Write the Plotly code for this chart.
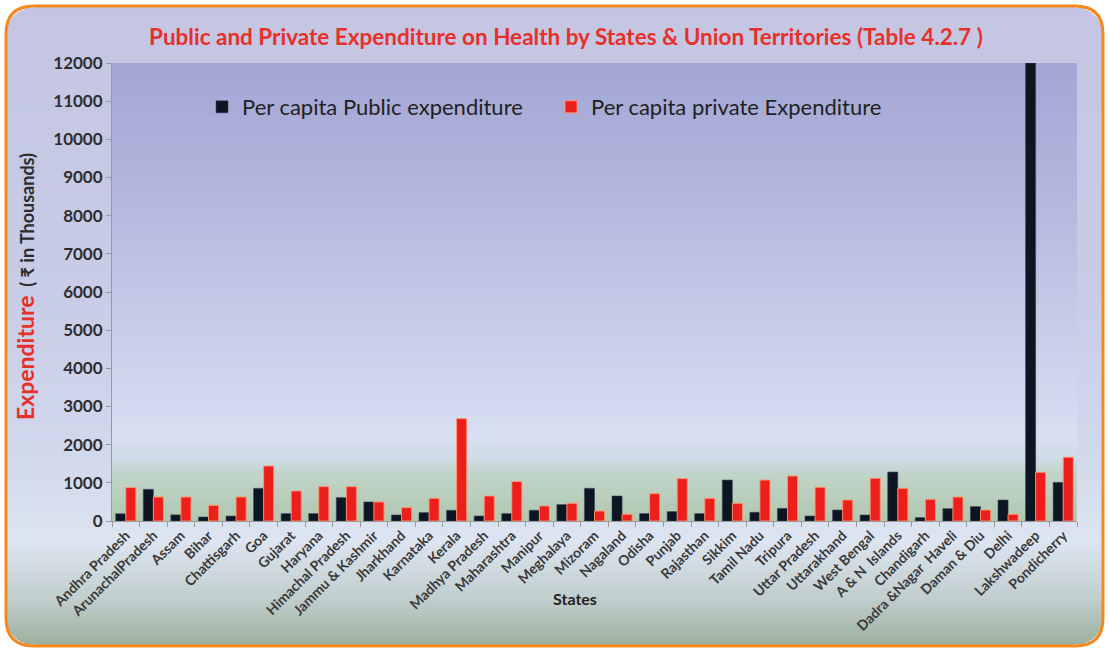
import math
import plotly.graph_objects as go

states = ["Andhra Pradesh", "ArunachalPradesh", "Assam", "Bihar", "Chattisgarh", "Goa",
          "Gujarat", "Haryana", "Himachal Pradesh", "Jammu & Kashmir", "Jharkhand",
          "Karnataka", "Kerala", "Madhya Pradesh", "Maharashtra", "Manipur", "Meghalaya",
          "Mizoram", "Nagaland", "Odisha", "Punjab", "Rajasthan", "Sikkim", "Tamil Nadu",
          "Tripura", "Uttar Pradesh", "Uttarakhand", "West Bengal", "A & N  Islands",
          "Chandigarh", "Dadra &Nagar  Haveli", "Daman & Diu", "Delhi", "Lakshwadeep",
          "Pondicherry"]
public_exp = [190, 830, 160, 105, 130, 856, 194, 194, 612, 498, 157, 220, 280, 131, 194,
              280, 430, 856, 655, 194, 246, 194, 1073, 228, 330, 131, 288, 157, 1283,
              89, 323, 377, 550, 12000, 1013]
private_exp = [875, 629, 629, 411, 629, 1441, 786, 900, 900, 498, 350, 594, 2682, 655,
               1032, 393, 463, 262, 175, 717, 1110, 594, 463, 1073, 1179, 883, 550, 1118,
               856, 568, 628, 288, 175, 1275, 1670]
y_ticks = list(range(0, 12001, 1000))

W, H = 1109, 651
L, R, T, B = 112, 1077, 63, 521


def px(X):
    return (X - L) / (R - L)


def py(Y):
    return (B - Y) / (B - T)


def hexrgb(h):
    h = h.lstrip("#")
    return tuple(int(h[i:i + 2], 16) for i in (0, 2, 4))


def color_at(stops, t):
    for k in range(len(stops) - 1):
        a, ca = stops[k]
        b, cb = stops[k + 1]
        if a <= t <= b:
            f = 0 if b == a else (t - a) / (b - a)
            ca, cb = hexrgb(ca), hexrgb(cb)
            c = tuple(round(ca[j] + (cb[j] - ca[j]) * f) for j in range(3))
            return "rgb(%d,%d,%d)" % c
    return stops[-1][1]


outer_stops = [(0, "#c4c5e2"), (0.45, "#c8cce6"), (0.72, "#d2daed"), (0.83, "#dde5f1"),
               (0.92, "#c0cecd"), (1.0, "#98ac98")]
inner_stops = [(0, "#a3a6d4"), (0.3, "#b3b8de"), (0.62, "#c9d0ea"), (0.82, "#d8e0f2"),
               (0.86, "#cfdce8"), (0.9, "#c0d4c8"), (1.0, "#b0c7b0")]

# frame geometry (pixels)
x0, y0, x1, y1, r = 6, 6, 1103, 646, 28


def inset(Y):
    if Y < y0 + r:
        d = y0 + r - Y
    elif Y > y1 - r:
        d = Y - (y1 - r)
    else:
        return 0
    d = min(d, r)
    return r - math.sqrt(max(r * r - d * d, 0))


shapes = []
step = 2
for Y in range(y0, y1, step):
    ym = Y + step / 2
    ins = max(inset(Y), inset(Y + step))
    shapes.append(dict(type="rect", xref="paper", yref="paper",
                       x0=px(x0 + ins), x1=px(x1 - ins),
                       y0=py(Y), y1=py(min(Y + step + 0.6, y1)), layer="below",
                       fillcolor=color_at(outer_stops, ym / H), line=dict(width=0)))
step = 3
for Y in range(T, B, step):
    shapes.append(dict(type="rect", xref="paper", yref="paper", x0=0, x1=1,
                       y0=py(Y), y1=py(min(Y + step + 0.6, B)), layer="below",
                       fillcolor=color_at(inner_stops, (Y + step / 2 - T) / (B - T)), line=dict(width=0)))

# rounded orange frame
path = (f"M{px(x0 + r)},{py(y0)} L{px(x1 - r)},{py(y0)} Q{px(x1)},{py(y0)} {px(x1)},{py(y0 + r)} "
        f"L{px(x1)},{py(y1 - r)} Q{px(x1)},{py(y1)} {px(x1 - r)},{py(y1)} "
        f"L{px(x0 + r)},{py(y1)} Q{px(x0)},{py(y1)} {px(x0)},{py(y1 - r)} "
        f"L{px(x0)},{py(y0 + r)} Q{px(x0)},{py(y0)} {px(x0 + r)},{py(y0)} Z")
shapes.append(dict(type="path", path=path, xref="paper", yref="paper",
                   line=dict(color="#f5891f", width=3), layer="above"))

fig = go.Figure()
fig.add_trace(go.Bar(x=states, y=public_exp, name="Per capita Public expenditure",
                     marker=dict(color="#0d1422", line=dict(color="rgba(60,70,90,0.6)", width=1))))
fig.add_trace(go.Bar(x=states, y=private_exp, name="Per capita private Expenditure",
                     marker=dict(color="#ec1f1c", line=dict(color="rgba(255,150,110,0.9)", width=1))))

fig.update_layout(
    width=W, height=H,
    margin=dict(l=L, r=W - R, t=T, b=H - B),
    paper_bgcolor="white", plot_bgcolor="rgba(0,0,0,0)",
    font=dict(family="Lato, Open Sans, sans-serif", color="#2b2b2b"),
    barmode="group", bargap=0.27, bargroupgap=0.0,
    showlegend=True,
    legend=dict(orientation="h", x=px(202), y=py(107), xanchor="left", yanchor="middle",
                bgcolor="rgba(0,0,0,0)", font=dict(size=22, color="#222222"),
                entrywidth=304, entrywidthmode="pixels", itemclick=False),
    xaxis=dict(tickangle=-45, tickfont=dict(size=14, color="#3a3a3a", weight="bold"),
               showline=True, linecolor="#9a9a9a", linewidth=1, ticks="outside",
               tickson="boundaries", ticklen=5, tickcolor="#9a9a9a", showgrid=False),
    yaxis=dict(range=[0, 12000], tickvals=y_ticks, tickformat="d",
               tickfont=dict(size=17, color="#2e2e2e", weight="bold"),
               showline=True, linecolor="#9a9a9a", linewidth=1, ticks="outside", ticklen=5,
               tickcolor="#9a9a9a", showgrid=False, zeroline=False),
    shapes=shapes,
    annotations=[
        dict(text="Public and Private Expenditure on Health by States & Union Territories (Table 4.2.7 )",
             x=px(566), y=py(37), xref="paper", yref="paper", showarrow=False,
             xanchor="center", yanchor="middle",
             font=dict(size=22.5, color="#e8302a", weight="bold")),
        dict(text="<span style='color:#e8302a;font-size:23px'>Expenditure</span>  "
                  "<span style='font-size:18px'>( ₹ in Thousands)</span>",
             x=px(25), y=py(287), xref="paper", yref="paper", showarrow=False, textangle=-90,
             xanchor="center", yanchor="middle",
             font=dict(size=18, color="#2b2b2b", weight="bold")),
        dict(text="States", x=px(575), y=py(598), xref="paper", yref="paper", showarrow=False,
             xanchor="center", yanchor="middle",
             font=dict(size=16, color="#222222", weight="bold")),
    ],
)

fig.write_html("out.html")
